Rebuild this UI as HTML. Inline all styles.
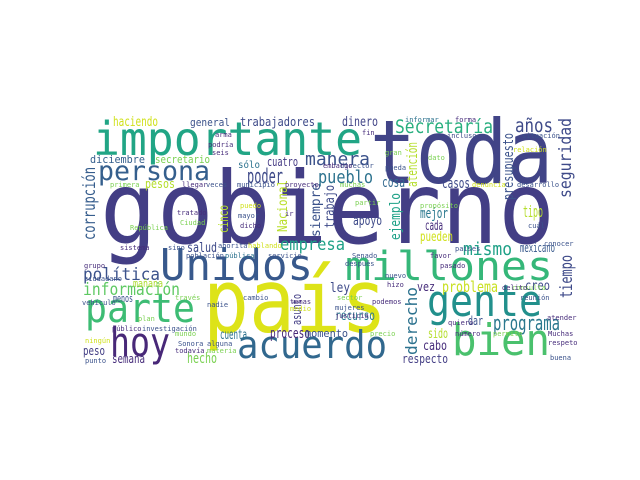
<!DOCTYPE html>
<html><head><meta charset="utf-8"><style>
html,body{margin:0;padding:0;background:#fff;}
svg{display:block;}
text{font-family:"DejaVu Sans Mono","Liberation Mono",monospace;}
</style></head><body>
<svg width="640" height="480" viewBox="0 0 640 480" xmlns="http://www.w3.org/2000/svg">
<rect width="640" height="480" fill="#fff"/>
<g id="words"></g>
</svg>
<script>
// [word, x, y, size, length, color, vertical]
const words = [
 ["gobierno",100,243,100,455,"#433e85",0],
 ["toda",370,183,88,183,"#414487",0],
 ["país",203,332,88,184,"#dde318",0],
 ["importante",93,155,46,269,"#21a585",0],
 ["Unidos",160,280,44,153,"#38598c",0],
 ["millones",345,280,40,208,"#35b779",0],
 ["gente",427,316,44,115,"#22908c",0],
 ["bien",452,355,44,98,"#4ac16d",0],
 ["acuerdo",237,358,38,150,"#31688e",0],
 ["parte",85,322,40,110,"#3dbc74",0],
 ["hoy",110,356,40,60,"#482878",0],
 ["persona",98,180,27,112,"#355f8d",0],
 ["información",83,295,17,97,"#5ec962",0],
 ["política",83,280,17,77,"#3b528b",0],
 ["programa",493,330,20,67,"#2a788e",0],
 ["mismo",463,255,18,49,"#1fa187",0],
 ["Secretaría",395,133,19,98,"#29af7f",0],
 ["años",515,132,19,38,"#3e4a89",0],
 ["dinero",342,126,13,36,"#414487",0],
 ["manera",305,165,18,65,"#3b528b",0],
 ["pueblo",318,183,18,55,"#2c728e",0],
 ["cosa",382,187,14,23,"#31688e",0],
 ["casos",442,188,14,28,"#3e4a89",0],
 ["tipo",523,217,16,20,"#b5de2b",0],
 ["apoyo",353,225,13,29,"#3e4a89",0],
 ["mejor",420,218,14,28,"#2a788e",0],
 ["cada",425,230,13,18,"#472d7b",0],
 ["pueden",420,241,13,33,"#d0e11c",0],
 ["haciendo",113,126,13,45,"#d0e11c",0],
 ["general",190,126,11,40,"#3b528b",0],
 ["trabajadores",240,126,12,75,"#3e4a89",0],
 ["diciembre",90,163,11,55,"#355f8d",0],
 ["secretario",155,163,11,55,"#7ad151",0],
 ["cuatro",267,166,12,31,"#443983",0],
 ["sólo",238,168,10,22,"#2c728e",0],
 ["poder",247,183,20,36,"#3e4a89",0],
 ["pesos",145,188,12,30,"#b5de2b",0],
 ["mañana",133,287,11,30,"#addc30",0],
 ["menos",113,302,11,20,"#3b528b",0],
 ["cuenta",220,339,13,27,"#2c728e",0],
 ["proceso",270,338,14,40,"#482878",0],
 ["hecho",187,363,14,30,"#7ad151",0],
 ["semana",112,363,12,33,"#472d7b",0],
 ["peso",83,355,12,22,"#433e85",0],
 ["salud",187,252,13,30,"#3e4a89",0],
 ["empresa",280,250,17,65,"#1fa187",0],
 ["problema",442,292,15,56,"#c8e020",0],
 ["creo",525,290,13,25,"#3e4a89",0],
 ["ley",330,292,13,20,"#3e4a89",0],
 ["vez",417,291,12,18,"#472d7b",0],
 ["recurso",335,320,13,40,"#2a788e",0],
 ["momento",305,337,11,43,"#3b528b",0],
 ["sido",428,338,13,20,"#b5de2b",0],
 ["cabo",423,350,13,24,"#472d7b",0],
 ["respecto",402,363,12,46,"#433e85",0],
 ["dar",468,325,12,15,"#3b528b",0],
 ["mexicano",520,252,12,35,"#38598c",0],
 ["derecho",417,355,16,68,"#2c728e",1],
 ["asunto",301,325,12,31,"#433e85",1],
 ["trabajo",334,228,13,43,"#3e4a89",1],
 ["atención",417,187,14,45,"#b5de2b",1],
 ["presupuesto",513,200,14,67,"#3b528b",1],
 ["ejemplo",400,240,14,47,"#1fa187",1],
 ["seguridad",571,198,17,80,"#3e4a89",1],
 ["tiempo",572,298,17,43,"#3e4a89",1],
 ["corrupción",95,240,17,73,"#365d8d",1],
 ["Nacional",287,232,13,52,"#b8de29",1],
 ["cinco",228,233,13,28,"#b5de2b",1],
 ["siempre",320,237,13,54,"#3b528b",1]
];
const small = [
 ["arma",215,137,7,"#472d7b"],["podría",208,147,7,"#472d7b"],["seis",212,155,7,"#472d7b"],
 ["informar",405,122,7,"#2c728e"],["forma",455,122,7,"#472d7b"],["fin",362,135,7,"#472d7b"],
 ["incluso",447,138,7,"#3e4a89"],["situación",522,138,7,"#3b528b"],["relación",513,152,7,"#d0e11c"],
 ["gran",385,155,7,"#7ad151"],["dato",428,160,7,"#7ad151"],["director",340,168,7,"#3b528b"],
 ["embargo",323,168,7,"#472d7b"],["pueda",385,170,7,"#3b528b"],["muchas",340,187,7,"#7ad151"],
 ["denuncia",472,187,7,"#d0e11c"],["desarrollo",517,187,7,"#3b528b"],["partir",355,205,7,"#7ad151"],
 ["propósito",420,208,7,"#7ad151"],["cuál",528,228,7,"#3b528b"],["primera",110,187,7,"#7ad151"],
 ["llegar",182,187,7,"#472d7b"],["veces",206,187,7,"#3b528b"],["municipio",237,187,7,"#3b528b"],
 ["proyecto",285,187,7,"#472d7b"],["puedo",240,208,7,"#d0e11c"],["tratado",177,215,7,"#472d7b"],
 ["mayor",238,218,7,"#3b528b"],["Ciudad",180,225,7,"#7ad151"],["dicho",240,228,7,"#472d7b"],
 ["República",130,230,7,"#7ad151"],["ir",285,216,7,"#472d7b"],["sistema",120,250,7,"#472d7b"],
 ["sino",168,250,7,"#3b528b"],["ahorita",218,248,7,"#3b528b"],["hablando",248,248,7,"#d0e11c"],
 ["población",186,258,7,"#3b528b"],["pública",225,258,7,"#2c728e"],["servicio",268,258,7,"#3b528b"],
 ["grupo",84,268,7,"#472d7b"],["ciudadano",84,281,7,"#3b528b"],["vehículo",82,305,7,"#3b528b"],
 ["través",175,300,7,"#7ad151"],["nadie",207,307,7,"#3b528b"],["cambio",243,300,7,"#3b528b"],
 ["plan",138,321,7,"#7ad151"],["público",112,331,7,"#472d7b"],["investigación",142,331,7,"#3b528b"],
 ["mundo",175,336,7,"#7ad151"],["ningún",85,343,7,"#d0e11c"],["Sonora",178,346,7,"#3b528b"],
 ["alguna",207,346,7,"#3b528b"],["todavía",175,353,7,"#472d7b"],["materia",207,353,7,"#7ad151"],
 ["punto",85,363,7,"#3b528b"],["temas",290,304,7,"#472d7b"],["medio",290,311,7,"#d0e11c"],
 ["Senado",352,258,7,"#3b528b"],["después",345,266,7,"#3b528b"],["pasado",440,268,7,"#472d7b"],
 ["nuevo",385,278,7,"#3b528b"],["hizo",387,287,7,"#472d7b"],["favor",430,258,7,"#472d7b"],
 ["consulta",512,290,7,"#7ad151"],["delito",502,290,7,"#472d7b"],["reunión",520,300,7,"#3b528b"],
 ["sector",337,300,7,"#7ad151"],["podemos",372,304,7,"#472d7b"],["mujeres",335,310,7,"#3b528b"],
 ["justicia",335,318,7,"#472d7b"],["quiero",448,325,7,"#472d7b"],["número",455,336,7,"#472d7b"],
 ["permite",493,336,7,"#7ad151"],["precio",370,336,7,"#7ad151"],["atender",547,320,7,"#472d7b"],
 ["Muchas",548,336,7,"#472d7b"],["respeto",548,345,7,"#472d7b"],["buena",550,360,7,"#3b528b"],
 ["conocer",544,246,7,"#3b528b"],["países",455,251,7,"#3b528b"]
];
const g = document.getElementById('words');
const NS = 'http://www.w3.org/2000/svg';
words.forEach(w => {
  const t = document.createElementNS(NS, 'text');
  
  
  t.setAttribute('font-size', w[3]);
  t.setAttribute('fill', w[5]);
  t.setAttribute('textLength', w[4]);
  t.setAttribute('lengthAdjust', 'spacingAndGlyphs');
  if (w[6]) {
    t.setAttribute('transform', 'translate(' + w[1] + ',' + w[2] + ') rotate(-90)');
  } else {
    t.setAttribute('x', w[1]);
    t.setAttribute('y', w[2]);
  }
  t.textContent = w[0];
  g.appendChild(t);
});
small.forEach(w => {
  const t = document.createElementNS(NS, 'text');
  
  
  t.setAttribute('font-size', w[3]);
  t.setAttribute('fill', w[4]);
  t.setAttribute('x', w[1]);
  t.setAttribute('y', w[2]);
  t.textContent = w[0];
  g.appendChild(t);
});
</script>
</body></html>
